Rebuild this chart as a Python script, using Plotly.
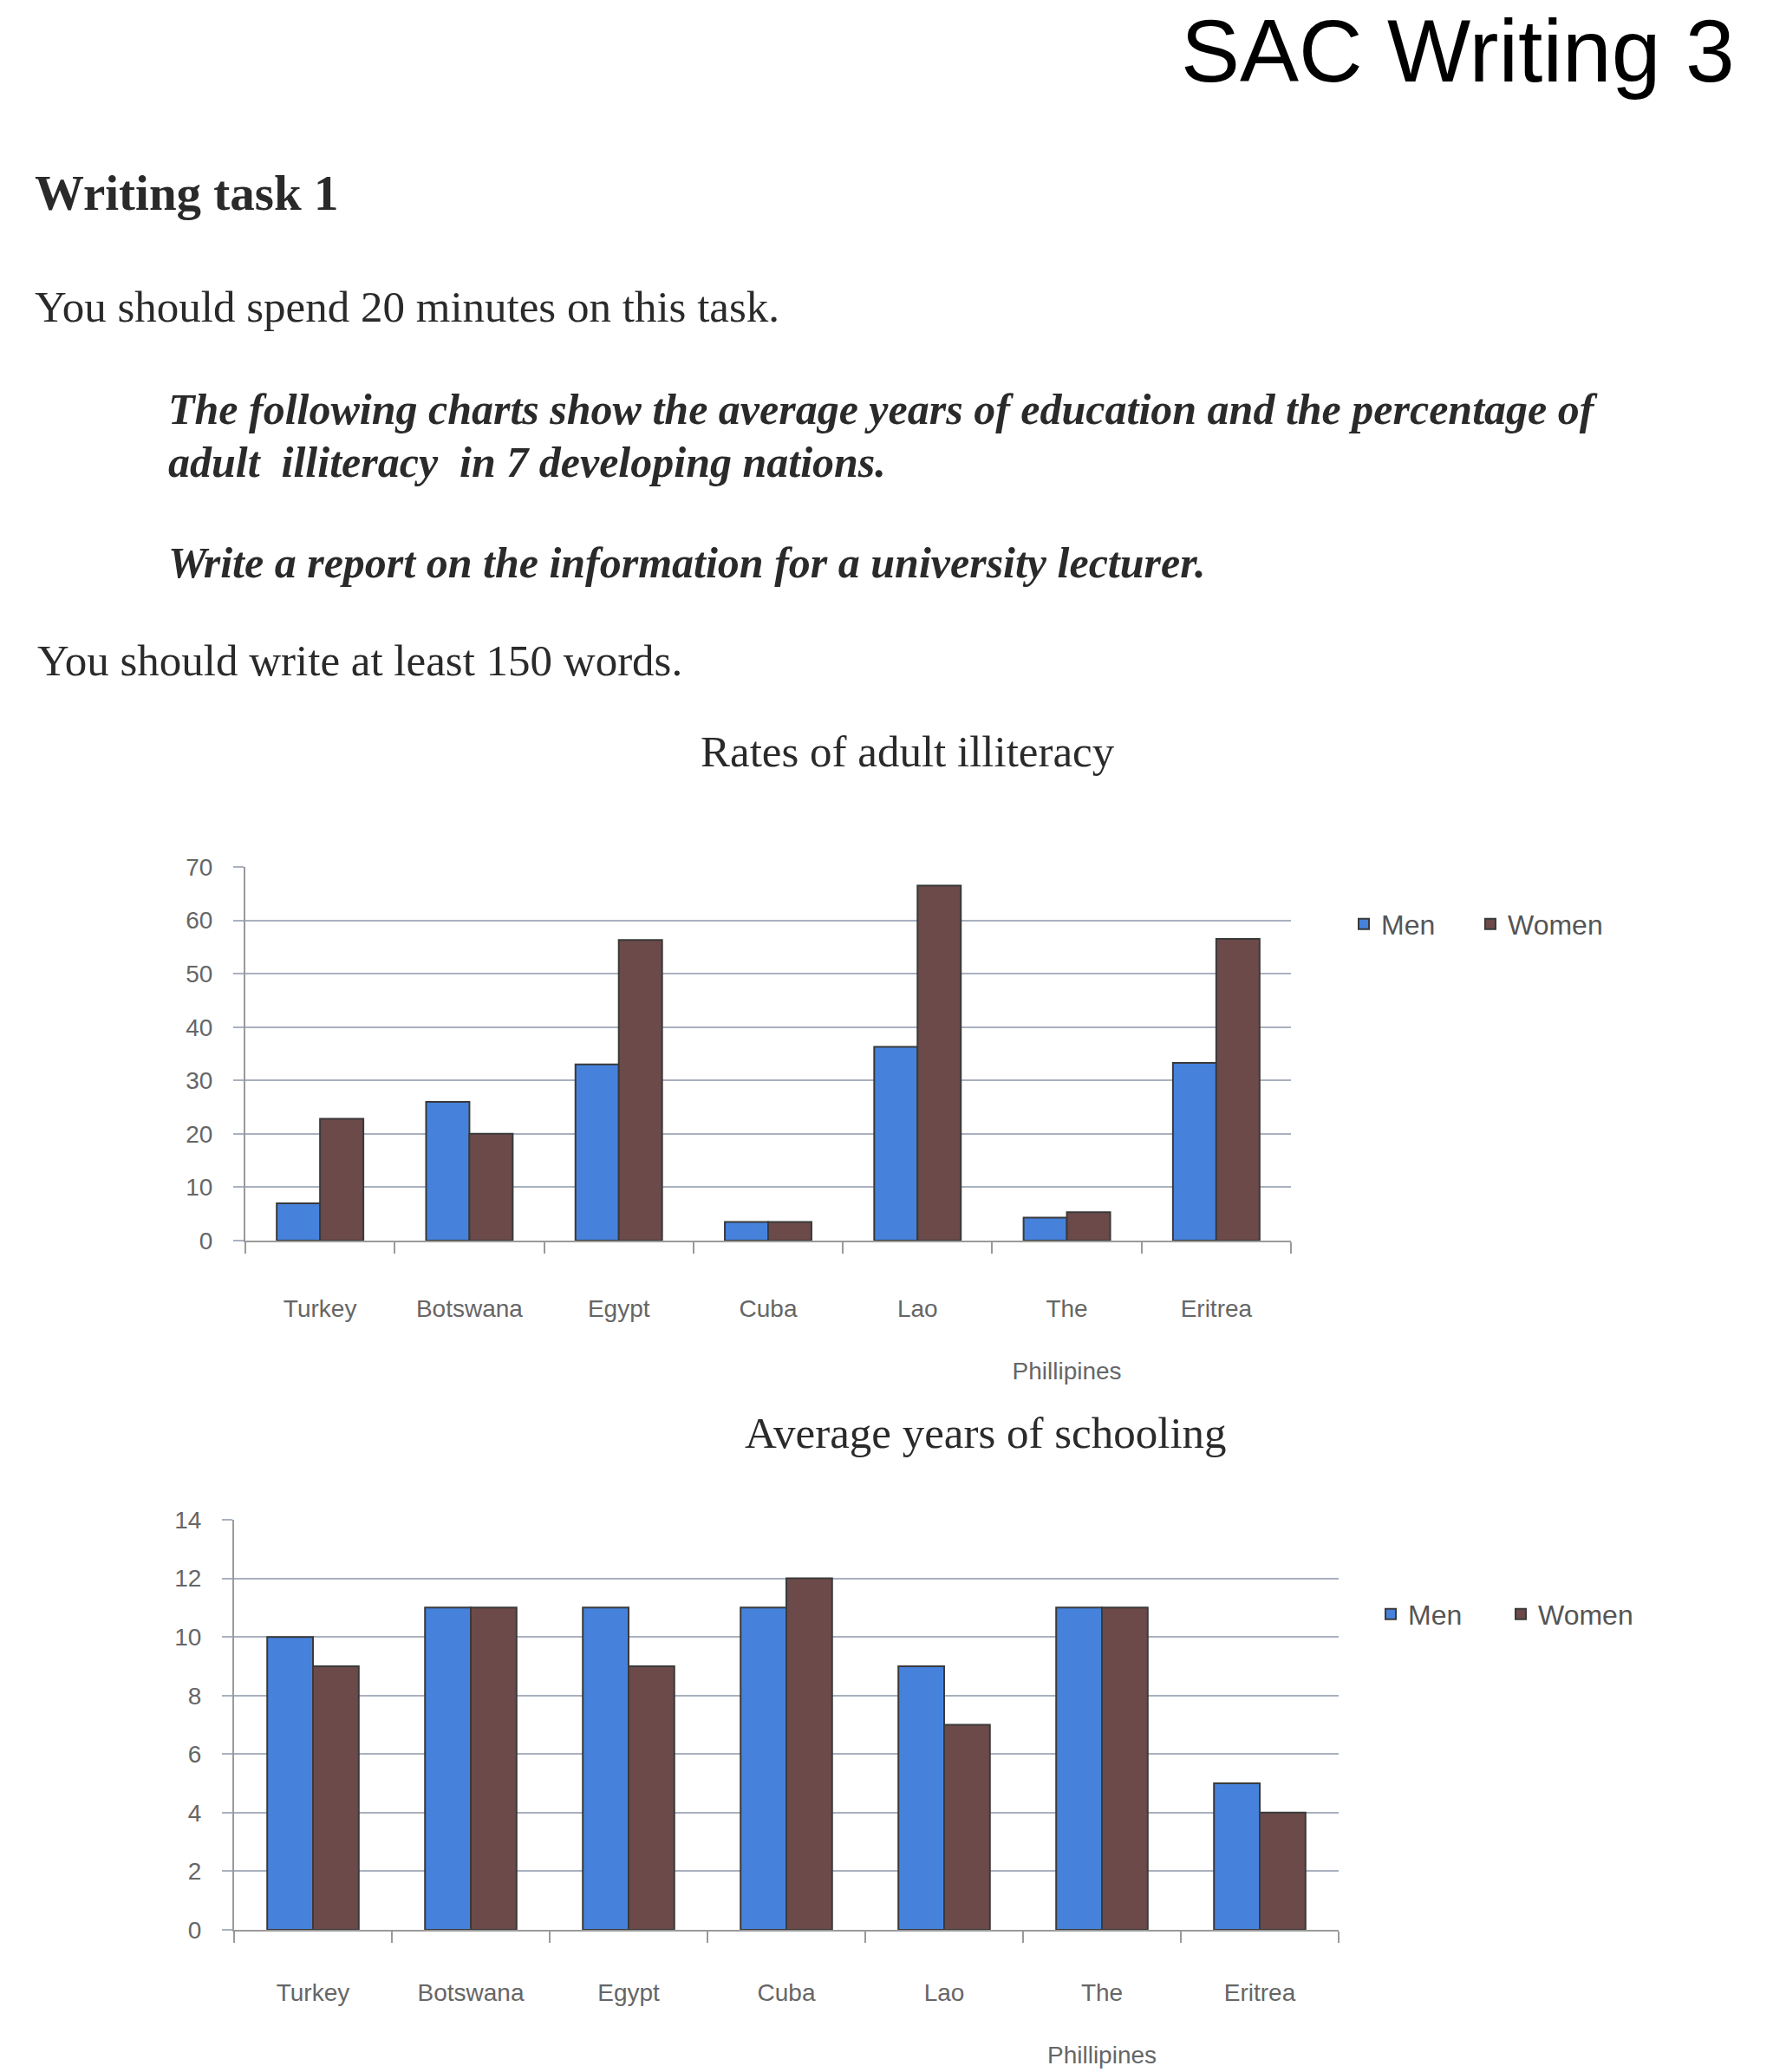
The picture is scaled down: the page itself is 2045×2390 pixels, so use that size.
import plotly.graph_objects as go

W, H = 2045, 2390

countries = ["Turkey", "Botswana", "Egypt", "Cuba", "Lao", "The<br><br>Phillipines", "Eritrea"]
illit_men = [7, 26, 33, 3.5, 36.3, 4.3, 33.3]
illit_women = [22.8, 20, 56.3, 3.5, 66.5, 5.3, 56.5]
school_men = [10, 11, 11, 11, 9, 11, 5]
school_women = [9, 11, 9, 12, 7, 11, 4]

BLUE = "#4682dc"
BROWN = "#6c4a4a"
EDGE = "#3a3a3a"
GRID = "#a9b1bf"
TICK = "#666666"


def px(x):
    return x / W


def py(y):
    return 1 - y / H


fig = go.Figure()
fig.add_trace(go.Bar(x=countries, y=illit_men, name="Men", marker=dict(color=BLUE, line=dict(color=EDGE, width=2)),
                     xaxis="x", yaxis="y", legend="legend", showlegend=True))
fig.add_trace(go.Bar(x=countries, y=illit_women, name="Women", marker=dict(color=BROWN, line=dict(color=EDGE, width=2)),
                     xaxis="x", yaxis="y", legend="legend2", showlegend=True))
fig.add_trace(go.Bar(x=countries, y=school_men, name="Men", marker=dict(color=BLUE, line=dict(color=EDGE, width=2)),
                     xaxis="x2", yaxis="y2", legend="legend3", showlegend=True))
fig.add_trace(go.Bar(x=countries, y=school_women, name="Women", marker=dict(color=BROWN, line=dict(color=EDGE, width=2)),
                     xaxis="x2", yaxis="y2", legend="legend4", showlegend=True))

tickfont = dict(family="Liberation Sans", size=28, color=TICK)

xcommon = dict(type="category", showline=True, linecolor="#9a9a9a", linewidth=2, ticks="outside",
               tickson="boundaries", ticklen=13, tickcolor="#9a9a9a", tickwidth=2, tickfont=tickfont,
               showgrid=False, fixedrange=True, automargin=False)
ycommon = dict(showline=True, linecolor="#9a9a9a", linewidth=2, ticks="outside", ticklen=12,
               tickcolor=GRID, tickwidth=2, showgrid=True, gridcolor=GRID, gridwidth=2,
               tickfont=tickfont, ticklabelstandoff=18, zeroline=False, fixedrange=True, automargin=False)

legfont = dict(family="Liberation Sans", size=32, color="#555555")


def leg(x, y):
    return dict(x=px(x), y=py(y), xanchor="left", yanchor="middle", orientation="h",
                font=legfont, bgcolor="rgba(0,0,0,0)", visible=True)


fig.update_layout(
    width=W, height=H,
    showlegend=True,
    margin=dict(l=0, r=0, t=0, b=0, autoexpand=False),
    paper_bgcolor="white", plot_bgcolor="white",
    barmode="group", bargap=0.42, bargroupgap=0,
    xaxis=dict(domain=[px(283), px(1489)], anchor="y", ticklabelstandoff=52, **xcommon),
    yaxis=dict(domain=[py(1431), py(1000)], anchor="x", range=[0, 70], dtick=10, **ycommon),
    xaxis2=dict(domain=[px(270), px(1544)], anchor="y2", ticklabelstandoff=46, **xcommon),
    yaxis2=dict(domain=[py(2226), py(1753)], anchor="x2", range=[0, 14], dtick=2, **ycommon),
    legend=leg(1553, 1066),
    legend2=leg(1699, 1066),
    legend3=leg(1584, 1862),
    legend4=leg(1734, 1862),
)

serif = "Liberation Serif"
TXT = "#2a2a2a"
annos = [
    dict(text="SAC Writing 3", x=px(2003), y=1, xanchor="right", yanchor="top",
         font=dict(family="Liberation Sans", size=102, color="#000000")),
    dict(text="<b>Writing task 1</b>", x=px(38), y=py(223), xanchor="left", yanchor="middle",
         font=dict(family=serif, size=57, color=TXT)),
    dict(text="You should spend 20 minutes on this task.", x=px(38), y=py(354), xanchor="left", yanchor="middle",
         font=dict(family=serif, size=51, color=TXT)),
    dict(text="<b><i>The following charts show the average years of education and the percentage of</i></b>",
         x=px(192), y=py(472), xanchor="left", yanchor="middle", font=dict(family=serif, size=50, color=TXT)),
    dict(text="<b><i>adult  illiteracy  in 7 developing nations.</i></b>",
         x=px(192), y=py(533), xanchor="left", yanchor="middle", font=dict(family=serif, size=50, color=TXT)),
    dict(text="<b><i>Write a report on the information for a university lecturer.</i></b>",
         x=px(192), y=py(649), xanchor="left", yanchor="middle", font=dict(family=serif, size=50, color=TXT)),
    dict(text="You should write at least 150 words.", x=px(41), y=py(762), xanchor="left", yanchor="middle",
         font=dict(family=serif, size=51, color=TXT)),
    dict(text="Rates of adult illiteracy", x=px(1047), y=py(867), xanchor="center", yanchor="middle",
         font=dict(family=serif, size=51, color=TXT)),
    dict(text="Average years of schooling", x=px(1137), y=py(1653), xanchor="center", yanchor="middle",
         font=dict(family=serif, size=51, color=TXT)),
]
for a in annos:
    a.update(xref="paper", yref="paper", showarrow=False)
fig.update_layout(annotations=annos)

fig.write_html("out.html", config={"displayModeBar": False},
               post_script="document.body.style.margin='0px';")
